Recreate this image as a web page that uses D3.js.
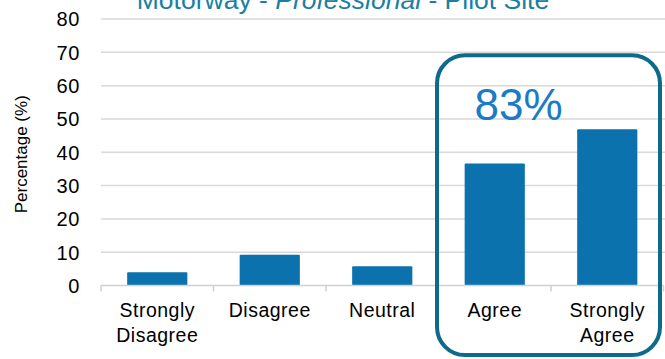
<!DOCTYPE html>
<html>
<head>
<meta charset="utf-8">
<script src="https://cdn.jsdelivr.net/npm/d3@7/dist/d3.min.js"></script>
<style>
  html, body { margin: 0; padding: 0; background: #ffffff; }
  svg { display: block; font-family: "Liberation Sans", Arial, sans-serif; }
</style>
</head>
<body>
<svg id="chart" width="665" height="359"></svg>
<script>
// Survey responses, share of respondents per answer (%)
const categories = [["Strongly", "Disagree"], ["Disagree"], ["Neutral"], ["Agree"], ["Strongly", "Agree"]];
const values = [4.0, 9.2, 5.8, 36.6, 46.9];
const yTicks = [0, 10, 20, 30, 40, 50, 60, 70, 80];
const highlightLabel = "83%";

const W = 665, H = 359;
const margin = { left: 101, right: 1.5, top: 19, bottom: 73.5 };

const svg = d3.select("#chart");
const keys = categories.map(c => c.join(" "));

const x = d3.scaleBand()
  .domain(keys)
  .range([margin.left, W - margin.right])
  .paddingInner(0)
  .paddingOuter(0);

const y = d3.scaleLinear()
  .domain([0, 80])
  .range([H - margin.bottom, margin.top]);

// Title (runs off the top edge)
const title = svg.append("text")
  .attr("x", 343)
  .attr("y", 9)
  .attr("text-anchor", "middle")
  .attr("fill", "#1a7fa3")
  .style("font-size", "26.5px");
title.append("tspan").text("Motorway - ");
title.append("tspan").style("font-style", "italic").text("Professional");
title.append("tspan").text(" - Pilot Site");

// Horizontal gridlines
svg.append("g")
  .selectAll("line")
  .data(yTicks.filter(t => t > 0))
  .join("line")
  .attr("x1", margin.left)
  .attr("x2", W)
  .attr("y1", d => y(d))
  .attr("y2", d => y(d))
  .attr("stroke", "#d9d9d9")
  .attr("stroke-width", 1.5);

// Y axis tick labels
const yAxis = d3.axisLeft(y).tickValues(yTicks).tickSize(0).tickPadding(0);
const gy = svg.append("g")
  .attr("transform", `translate(${margin.left - 21},0)`)
  .call(yAxis);
gy.select(".domain").remove();
gy.selectAll("text")
  .attr("fill", "#000")
  .attr("dy", "0.34em")
  .style("font-size", "20px")
  .style("font-family", "'Liberation Sans', Arial, sans-serif")
  .style("letter-spacing", "0.6px");

// Y axis title
svg.append("text")
  .attr("transform", `translate(26.5,${(y(0) + y(80)) / 2 + 2}) rotate(-90)`)
  .attr("text-anchor", "middle")
  .attr("fill", "#000")
  .style("font-size", "17px")
  .text("Percentage (%)");

// Bars
const barW = x.bandwidth() * 0.535;
svg.append("g")
  .selectAll("rect")
  .data(values)
  .join("rect")
  .attr("x", (d, i) => x(keys[i]) + (x.bandwidth() - barW) / 2)
  .attr("y", d => y(d))
  .attr("width", barW)
  .attr("height", d => y(0) - y(d))
  .attr("rx", 1)
  .attr("fill", "#0b72ad");

// Category axis with boundary ticks
const base = svg.append("g");
base.append("line")
  .attr("x1", margin.left).attr("x2", W - margin.right)
  .attr("y1", y(0)).attr("y2", y(0))
  .attr("stroke", "#d0d0d0").attr("stroke-width", 1.5);
base.selectAll("line.tick")
  .data(keys.map(k => x(k)).concat([x(keys[keys.length - 1]) + x.bandwidth()]))
  .join("line")
  .attr("class", "tick")
  .attr("x1", d => d).attr("x2", d => d)
  .attr("y1", y(0)).attr("y2", y(0) + 6)
  .attr("stroke", "#d0d0d0").attr("stroke-width", 1.5);

// Category labels
const labels = svg.append("g")
  .selectAll("text")
  .data(categories)
  .join("text")
  .attr("x", (d, i) => x(keys[i]) + x.bandwidth() / 2)
  .attr("y", y(0) + 31.5)
  .attr("text-anchor", "middle")
  .attr("fill", "#000")
  .style("font-size", "19.5px")
  .style("letter-spacing", "0.5px");
labels.selectAll("tspan")
  .data(d => d)
  .join("tspan")
  .attr("x", function () { return d3.select(this.parentNode).attr("x"); })
  .attr("dy", (d, i) => i === 0 ? 0 : 24.8)
  .text(d => d);

// Highlight box around the agreeing answers
const boxL = x("Agree") - 1.5;
const boxR = x("Strongly Agree") + x.bandwidth() - 3.5;
svg.append("rect")
  .attr("x", boxL)
  .attr("y", y(69.1))
  .attr("width", boxR - boxL)
  .attr("height", H - 4 - y(69.1))
  .attr("rx", 28)
  .attr("fill", "none")
  .attr("stroke", "#0d6a8b")
  .attr("stroke-width", 4);

// Combined agreement share
svg.append("text")
  .attr("x", x("Agree") + 36)
  .attr("y", 119.5)
  .attr("fill", "#1a7bc6")
  .style("font-size", "44px")
  .text(highlightLabel);
</script>
</body>
</html>
